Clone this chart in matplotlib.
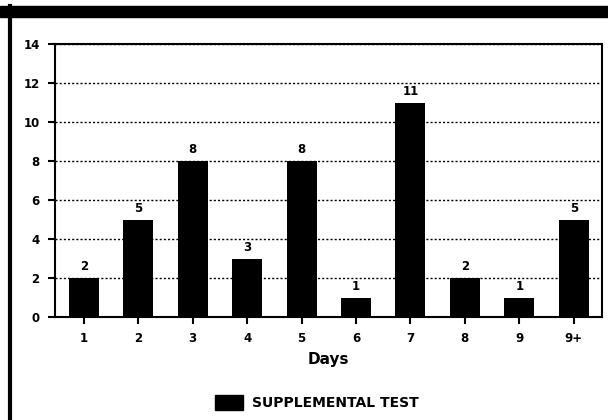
import matplotlib.pyplot as plt
from matplotlib.patches import Rectangle
from matplotlib.lines import Line2D

days = ['1', '2', '3', '4', '5', '6', '7', '8', '9', '9+']
counts = [2, 5, 8, 3, 8, 1, 11, 2, 1, 5]
yticks = [0, 2, 4, 6, 8, 10, 12, 14]

plt.rcParams['font.family'] = ['DejaVu Sans']
plt.rcParams['font.weight'] = 'bold'

fig = plt.figure(figsize=(6.08, 4.2), dpi=100)
ax = fig.add_axes([55 / 608, 1 - 317 / 420, 547 / 608, 273 / 420])

x = list(range(len(days)))
ax.bar(x, counts, width=0.55, color='black', zorder=3)
for xi, c in zip(x, counts):
    ax.text(xi, c + 0.25, str(c), ha='center', va='bottom', fontsize=8.5, fontweight='bold')

ax.set_xlim(-0.53, 9.52)
ax.set_ylim(0, 14)
ax.set_yticks(yticks)
ax.set_xticks(x)
ax.set_xticklabels(days, fontsize=8.5, fontweight='bold')
ax.set_yticklabels([str(v) for v in yticks], fontsize=8.5, fontweight='bold')
ax.tick_params(axis='both', direction='out', length=5, width=1.5, color='black', pad=6)
ax.yaxis.grid(True, linestyle=(0, (1.5, 1.5)), color='black', linewidth=1)
ax.set_axisbelow(True)
for s in ax.spines.values():
    s.set_linewidth(1.5)

ax.set_xlabel('Days', fontsize=11, fontweight='bold', labelpad=5)

# legend
fig.patches.append(Rectangle((215 / 608, 1 - 410 / 420), 28 / 608, 15 / 420,
                             transform=fig.transFigure, color='black'))
fig.text(252 / 608, 1 - 403 / 420, 'SUPPLEMENTAL TEST', fontsize=10, fontweight='bold',
         va='center', ha='left')

# outer frame
fig.patches.append(Rectangle((0, 1 - 17 / 420), 1, 11 / 420,
                             transform=fig.transFigure, color='black'))
fig.lines.append(Line2D([10 / 608, 10 / 608], [0, 1 - 6 / 420],
                        transform=fig.transFigure, color='black', linewidth=3))

fig.savefig('out.png', dpi=100, facecolor='white')
